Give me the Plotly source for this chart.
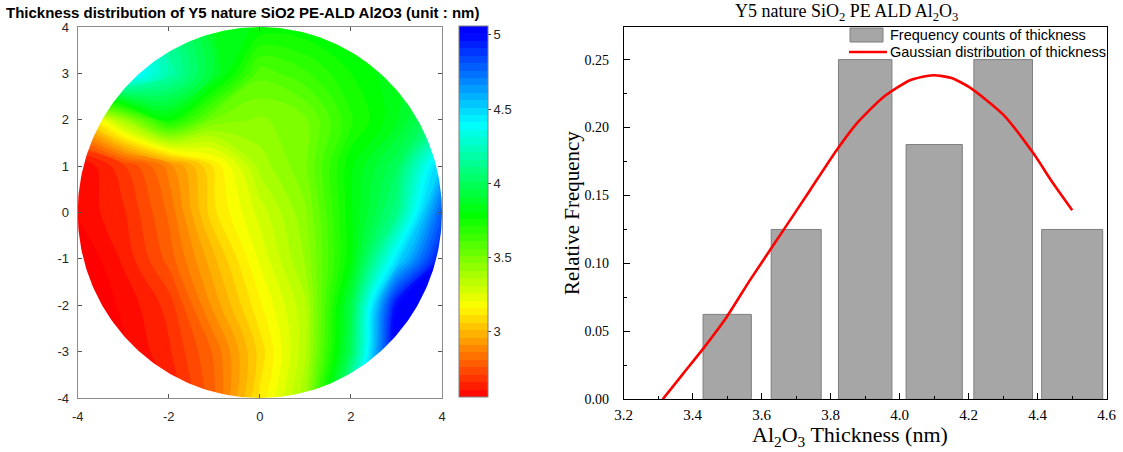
import numpy as np
import plotly.graph_objects as go

# ---------------- data: wafer thickness map (nm) ----------------
map_x = [-4, -3, -2, -1, 0, 1, 2, 3, 4]
map_y_top_down = [4, 3, 2, 1, 0, -1, -2, -3, -4]
map_z_top_down = [
    [4.50, 4.40, 4.10, 3.85, 3.80, 3.80, 3.80, 3.85, 3.95],
    [4.40, 4.50, 4.20, 3.90, 3.58, 3.65, 3.76, 3.85, 3.95],
    [3.00, 3.40, 3.78, 3.50, 3.45, 3.50, 3.70, 3.85, 4.10],
    [2.55, 2.70, 2.88, 3.12, 3.38, 3.50, 3.80, 4.00, 4.55],
    [2.57, 2.65, 2.82, 3.10, 3.28, 3.45, 3.80, 4.10, 4.80],
    [2.50, 2.62, 2.78, 3.00, 3.22, 3.42, 3.80, 4.45, 5.00],
    [2.50, 2.57, 2.68, 2.93, 3.15, 3.35, 3.95, 5.00, 5.20],
    [2.50, 2.55, 2.65, 2.82, 3.08, 3.35, 4.00, 5.10, 5.20],
    [2.50, 2.52, 2.60, 2.80, 3.12, 3.40, 4.30, 5.10, 5.20],
]
map_ticks_x = [-4, -2, 0, 2, 4]
map_ticks_y = [-4, -3, -2, -1, 0, 1, 2, 3, 4]
cbar_ticks = [3, 3.5, 4, 4.5, 5]

# ---------------- data: histogram + gaussian ----------------
bin_centers = [3.5, 3.7, 3.9, 4.1, 4.3, 4.5]
rel_freq = [0.0625, 0.125, 0.25, 0.1875, 0.25, 0.125]
gauss_x = [3.313, 3.373, 3.431, 3.499, 3.566, 3.663, 3.740, 3.817, 3.875,
           3.953, 4.030, 4.097, 4.150, 4.204, 4.300, 4.387, 4.445, 4.500]
gauss_y = [0.000, 0.0191, 0.0375, 0.0608, 0.0877, 0.1245, 0.1539, 0.1833, 0.2029,
           0.2225, 0.2348, 0.2385, 0.2365, 0.2294, 0.2095, 0.1812, 0.1588, 0.1392]

# ---------------- styles ----------------
W, H = 1123, 452
bar_widths = [0.14, 0.145, 0.155, 0.163, 0.17, 0.177]
SANS = "Liberation Sans, Arial, sans-serif"
SERIF = "Liberation Serif, Times New Roman, serif"

hsv_scale = [[0.0, "rgb(255,0,0)"], [0.25, "rgb(255,255,0)"], [0.5, "rgb(0,255,0)"],
             [0.75, "rgb(0,255,255)"], [1.0, "rgb(0,0,255)"]]

def px_x(p):
    return p / W

def px_y(p):
    return 1 - p / H

fig = go.Figure()

map_y = map_y_top_down[::-1]
map_z = map_z_top_down[::-1]

fig.add_trace(go.Contour(
    x=map_x, y=map_y, z=map_z,
    xaxis="x", yaxis="y",
    colorscale=hsv_scale, zmin=2.56, zmax=5.06, zauto=False,
    autocontour=False,
    contours=dict(start=2.56, end=5.06, size=0.05, coloring="fill", showlines=False),
    line=dict(width=0),
    colorbar=dict(
        thickness=29, thicknessmode="pixels",
        len=371, lenmode="pixels",
        x=px_x(459), xanchor="left", xpad=0,
        y=px_y(211.5), yanchor="middle", ypad=0,
        outlinewidth=1, outlinecolor="#808080",
        tickvals=cbar_ticks, ticktext=["3", "3.5", "4", "4.5", "5"],
        ticks="outside", ticklen=3, tickcolor="#404040",
        tickfont=dict(family=SANS, size=13, color="#262626"),
    ),
    hoverinfo="skip",
))

# white mask outside the wafer circle (four corner pieces)
R = 4.0
E = 4.3
for (a0, a1, cx, cy) in [(90, 0, E, E), (180, 90, -E, E), (270, 180, -E, -E), (360, 270, E, -E)]:
    th = np.deg2rad(np.linspace(a0, a1, 90))
    xs = list(R * np.cos(th))
    ys = list(R * np.sin(th))
    if (cx, cy) == (E, E):
        xs = [0, 0] + xs + [E, E]
        ys = [E, R] + ys + [0, E]
    elif (cx, cy) == (-E, E):
        xs = [-E, -E] + xs + [0, -E]
        ys = [E, 0] + ys + [E, E]
    elif (cx, cy) == (-E, -E):
        xs = [-E, 0] + xs + [-E, -E]
        ys = [-E, -E] + ys + [0, -E]
    else:
        xs = [E, E] + xs + [0, E]
        ys = [-E, 0] + ys + [-E, -E]
    fig.add_trace(go.Scatter(x=xs, y=ys, mode="lines", fill="toself",
                             fillcolor="white", line=dict(width=0, color="white"),
                             xaxis="x", yaxis="y", showlegend=False, hoverinfo="skip"))

# histogram bars
fig.add_trace(go.Bar(
    x=bin_centers, y=rel_freq, width=bar_widths,
    marker=dict(color="#a6a6a6", line=dict(color="#7f7f7f", width=1)),
    xaxis="x2", yaxis="y2", showlegend=False, hoverinfo="skip",
))
fig.add_trace(go.Scatter(
    x=gauss_x, y=gauss_y, mode="lines",
    line=dict(color="#ff0000", width=2.6, shape="spline", smoothing=0.6),
    xaxis="x2", yaxis="y2", showlegend=False, hoverinfo="skip",
))

left_axis = dict(range=[-4, 4], showline=True, linecolor="#8c8c8c", linewidth=1, mirror="ticks",
                 ticks="inside", ticklen=4, tickcolor="#555555", showgrid=False, zeroline=False,
                 tickfont=dict(family=SANS, size=13, color="#262626"), fixedrange=True,
                 automargin=False)

fig.update_layout(
    template="plotly_white",
    width=W, height=H, margin=dict(l=0, r=0, t=0, b=0, pad=0, autoexpand=False),
    paper_bgcolor="white", plot_bgcolor="white", showlegend=False,
    xaxis=dict(left_axis, domain=[px_x(77.7), px_x(442)], tickvals=map_ticks_x,
               ticktext=[str(v) for v in map_ticks_x], ticklabelstandoff=6, anchor="y"),
    yaxis=dict(left_axis, domain=[px_y(398), px_y(27)], tickvals=map_ticks_y,
               ticktext=[str(v) for v in map_ticks_y], ticklabelstandoff=5, anchor="x"),
    xaxis2=dict(range=[3.2, 4.6], domain=[px_x(623.7), px_x(1106.7)], anchor="y2",
                dtick=0.2, tick0=3.2, tickformat=".1f", ticks="inside", ticklen=6, tickcolor="black",
                minor=dict(dtick=0.1, tick0=3.2, ticks="inside", ticklen=3, tickcolor="black",
                           showgrid=False),
                showline=True, linecolor="black", linewidth=1, mirror=True,
                showgrid=False, zeroline=False, ticklabelstandoff=2, automargin=False,
                tickfont=dict(family=SERIF, size=15, color="black"), fixedrange=True),
    yaxis2=dict(range=[0, 0.274], domain=[px_y(399.3), px_y(27)], anchor="x2",
                dtick=0.05, tick0=0, tickformat=".2f", ticks="inside", ticklen=6, tickcolor="black",
                minor=dict(dtick=0.025, tick0=0, ticks="inside", ticklen=3, tickcolor="black",
                           showgrid=False),
                showline=True, linecolor="black", linewidth=1, mirror=True,
                showgrid=False, zeroline=False, ticklabelstandoff=11, automargin=False,
                tickfont=dict(family=SERIF, size=14, color="black"), fixedrange=True),
)

ann = []
ann.append(dict(text="Thickness distribution of Y5 nature SiO2 PE-ALD Al2O3 (unit : nm)",
                x=px_x(242), y=px_y(12), xref="paper", yref="paper", showarrow=False,
                xanchor="center", yanchor="middle",
                font=dict(family=SANS, size=15, color="black", weight="bold")))
ann.append(dict(text="Y5 nature SiO<sub>2</sub> PE ALD Al<sub>2</sub>O<sub>3</sub>",
                x=px_x(846), y=px_y(12), xref="paper", yref="paper", showarrow=False,
                xanchor="center", yanchor="middle",
                font=dict(family=SERIF, size=18, color="black")))
ann.append(dict(text="Al<sub>2</sub>O<sub>3</sub> Thickness (nm)",
                x=px_x(850), y=px_y(436), xref="paper", yref="paper", showarrow=False,
                xanchor="center", yanchor="middle",
                font=dict(family=SERIF, size=22, color="black")))
ann.append(dict(text="Relative Frequency", textangle=-90,
                x=px_x(572), y=px_y(213), xref="paper", yref="paper", showarrow=False,
                xanchor="center", yanchor="middle",
                font=dict(family=SERIF, size=21, color="black")))
# legend
ann.append(dict(text="Frequency counts of thickness", x=px_x(888), y=px_y(35),
                xref="paper", yref="paper", showarrow=False, xanchor="left", yanchor="middle",
                font=dict(family=SANS, size=14.5, color="black")))
ann.append(dict(text="Gaussian distribution of thickness", x=px_x(888), y=px_y(52),
                xref="paper", yref="paper", showarrow=False, xanchor="left", yanchor="middle",
                font=dict(family=SANS, size=14.5, color="black")))
fig.update_layout(annotations=ann)

fig.add_shape(type="rect", xref="paper", yref="paper",
              x0=px_x(850), x1=px_x(883), y0=px_y(42), y1=px_y(28),
              fillcolor="#a6a6a6", line=dict(color="#7f7f7f", width=1))
fig.add_shape(type="line", xref="paper", yref="paper",
              x0=px_x(849), x1=px_x(887), y0=px_y(52), y1=px_y(52),
              line=dict(color="#ff0000", width=2.6))

fig.write_html("out.html")
